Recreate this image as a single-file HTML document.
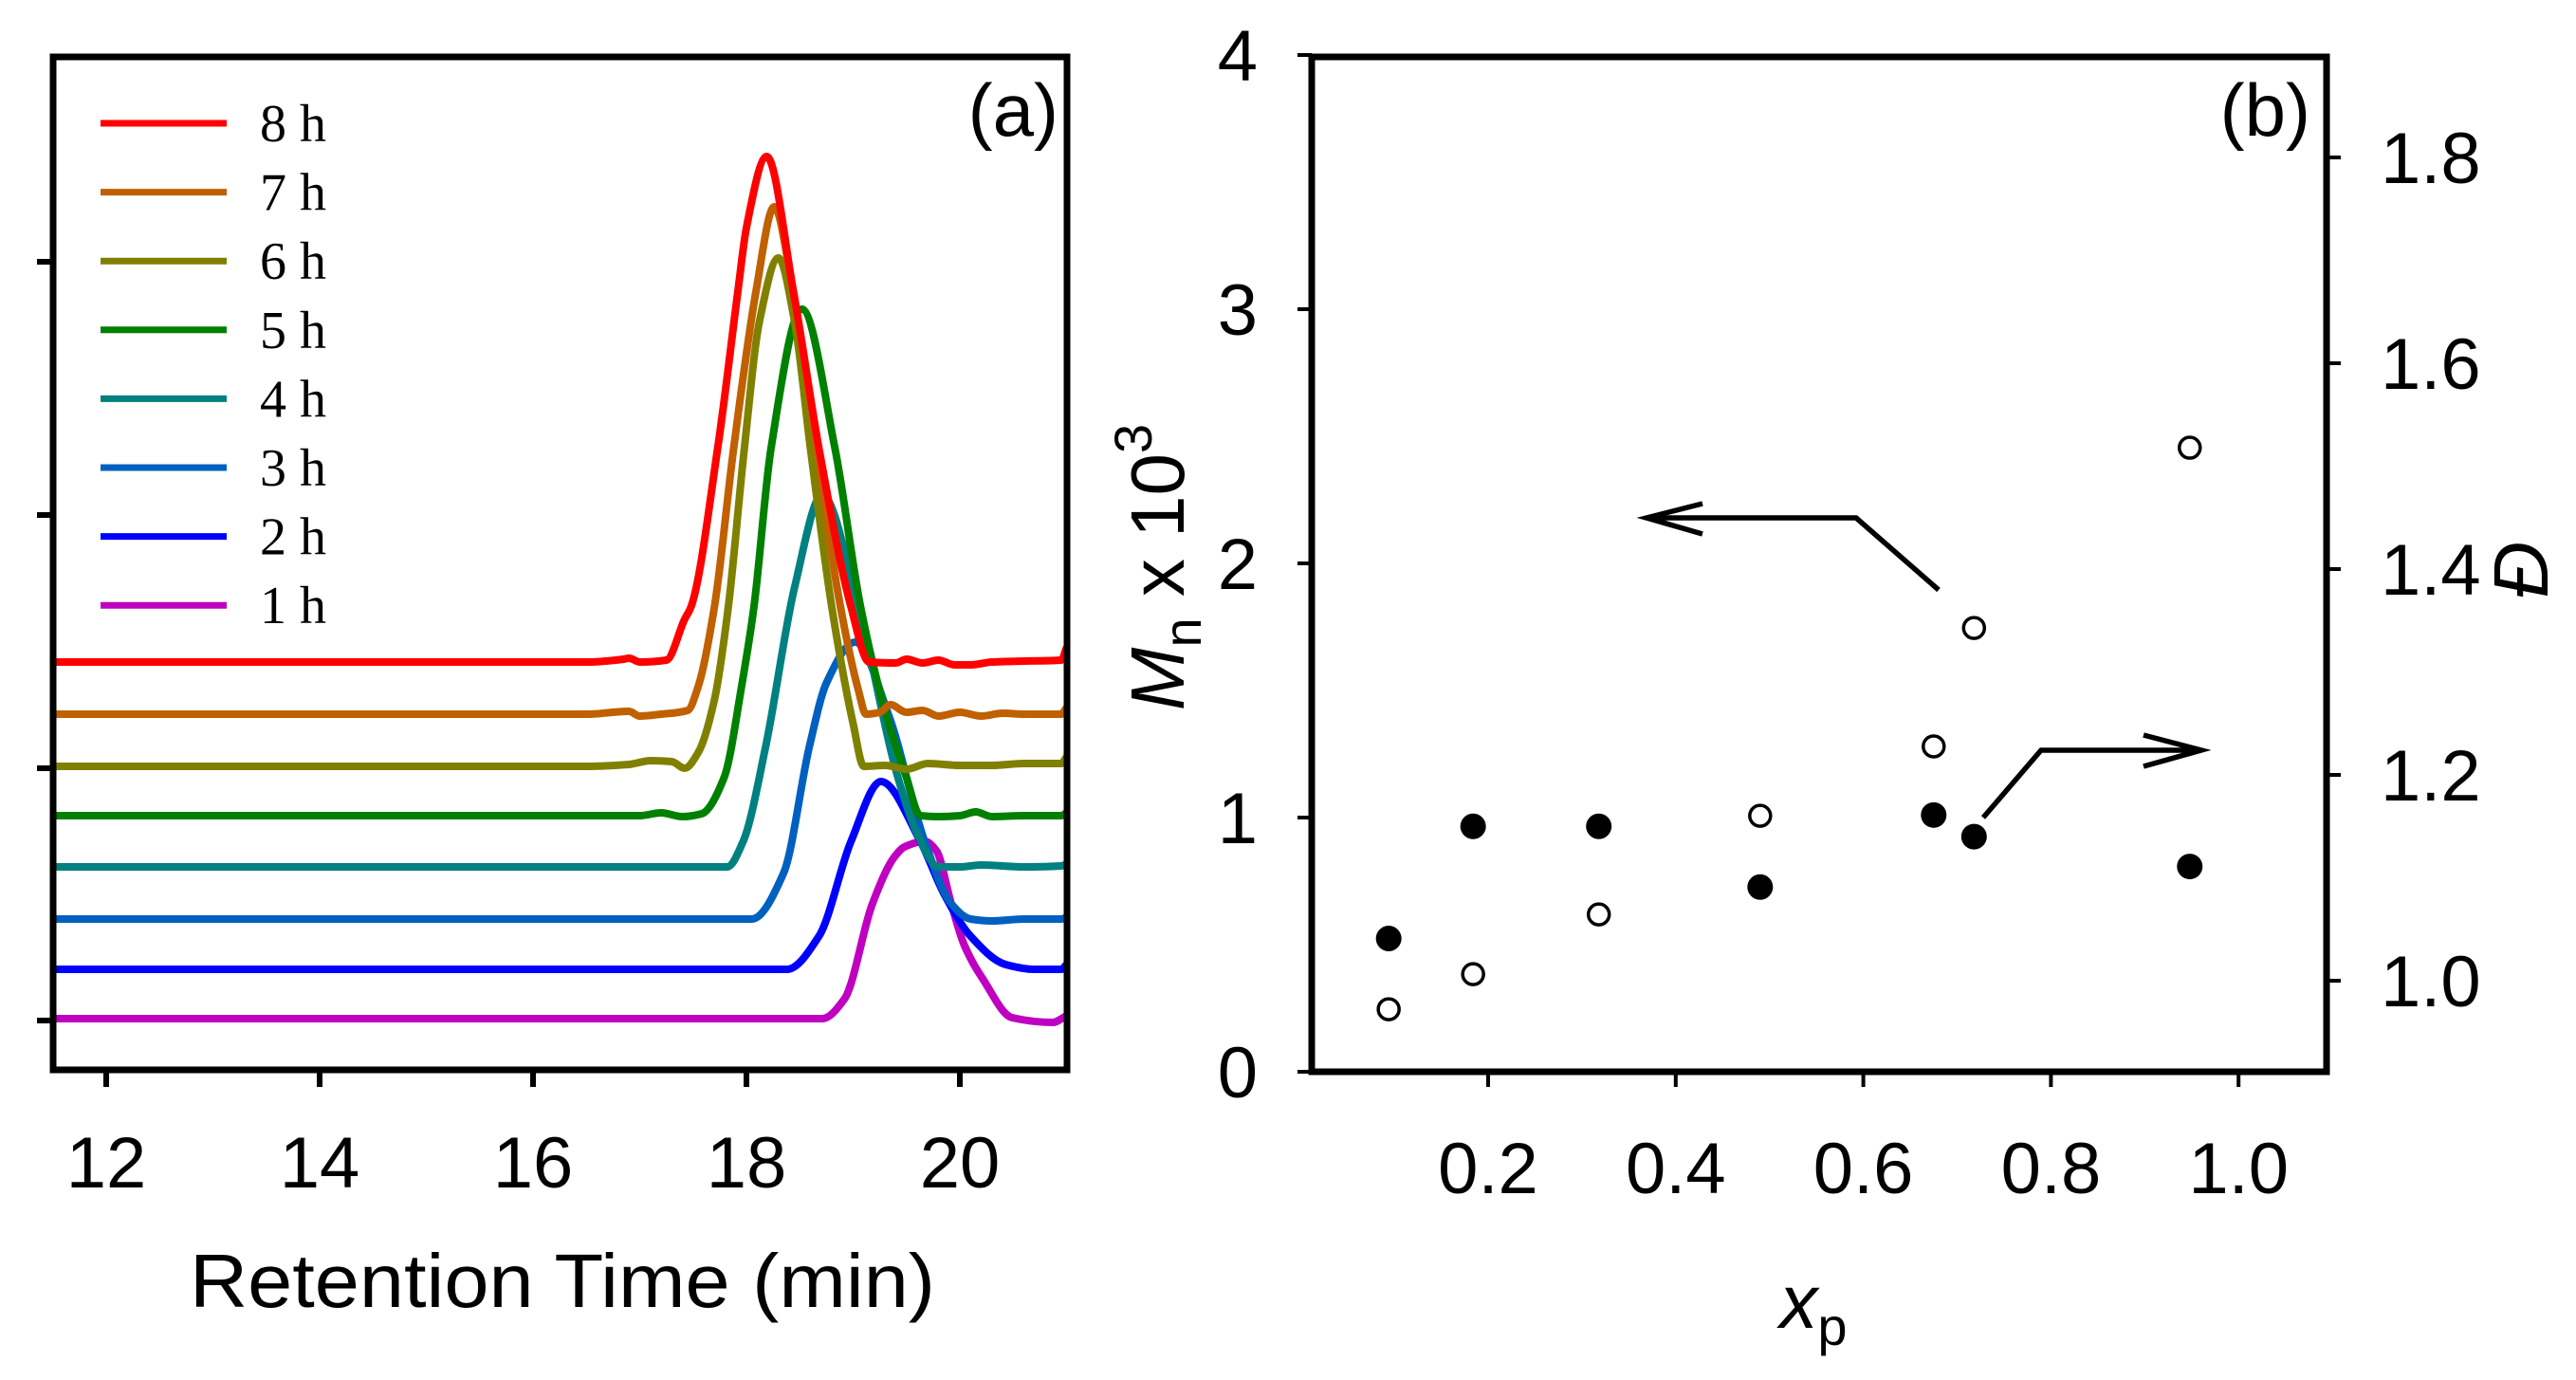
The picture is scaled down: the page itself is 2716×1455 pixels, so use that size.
<!DOCTYPE html>
<html><head><meta charset="utf-8">
<style>
html,body{margin:0;padding:0;background:#fff;}
svg{display:block;}
text{font-family:"Liberation Sans",sans-serif;fill:#000;}
</style></head>
<body>
<svg id="fig" width="2716" height="1455" viewBox="0 0 2716 1455" xmlns="http://www.w3.org/2000/svg">
  <g id="panelA"></g>
  <g id="panelB"></g>
</svg>
<script>
// ---------- Panel (a) data ----------
const seriesLabels = ["8 h","7 h","6 h","5 h","4 h","3 h","2 h","1 h"];
const seriesColors = ["#ff0000","#c06000","#808000","#008000","#008080","#0060c0","#0000ff","#c000c0"];
const baselines = [430, 375, 320, 268, 214, 159, 106, 54];
const t8 = [11.51,16.5,16.85,16.9,17.0,17.25,17.42,17.48,17.73,17.92,18.0,18.19,18.44,18.68,18.98,19.15,19.4,19.5,19.65,19.8,19.95,20.1,20.3,20.6,20.95,21.0];
const h8 = [0,0,3,4,0,2,45,58,225,391,458,533,391,225,58,0,-1,3,-1,2,-3,-3,0,1,2,15];
const t7 = [11.51,16.5,16.9,17.0,17.2,17.45,17.55,17.70,17.88,18.09,18.26,18.43,18.65,18.85,19.05,19.12,19.25,19.35,19.5,19.65,19.8,20.0,20.2,20.4,20.6,20.95,21.0];
const h7 = [0,0,3,-2,0,4,30,113,280,446,535,450,290,133,25,0,2,10,2,4,-2,2,-2,1,0,0,7];
const t6 = [11.51,16.5,16.9,17.1,17.3,17.42,17.55,17.7,17.83,17.98,18.12,18.30,18.45,18.60,18.80,19.0,19.1,19.3,19.5,19.7,20.0,20.3,20.6,20.95,21.0];
const h6 = [0,0,2,6,5,-2,15,70,168,335,468,536,470,335,168,45,0,1,-3,3,1,1,3,3,10];
const t5 = [11.51,16.5,17.0,17.2,17.4,17.58,17.79,17.96,18.07,18.23,18.52,18.83,19.07,19.3,19.5,19.63,19.8,20.0,20.15,20.3,20.6,20.95,21.0];
const h5 = [0,0,0,3,-1,2,40,140,220,387,534,387,220,110,40,0,-1,0,4,-1,0,0,3];
const t4 = [11.51,16.5,17.82,17.97,18.18,18.45,18.71,19.05,19.42,19.6,19.8,20.0,20.2,20.6,20.95,21.0];
const h4 = [0,0,0,27,127,294,392,274,94,35,0,0,2,0,1,3];
const t3 = [11.51,16.5,18.05,18.35,18.59,18.75,19.02,19.33,19.67,19.92,20.1,20.3,20.6,20.95,21.0];
const h3 = [0,0,0,49,182,249,292,216,82,16,0,-2,0,0,2];
const t2 = [11.51,16.5,18.38,18.68,18.98,19.26,19.63,19.85,20.1,20.43,20.7,20.95,21.0];
const h2 = [0,0,0,35,135,198,135,80,35,5,0,0,5];
const t1 = [11.51,16.5,18.71,18.92,19.18,19.39,19.48,19.67,19.78,19.92,20.04,20.22,20.49,20.87,21.0];
const h1 = [0,0,0,21,121,171,181,187,177,121,78,41,1,-4,3];
const seriesT = [t8,t7,t6,t5,t4,t3,t2,t1];
const seriesH = [h8,h7,h6,h5,h4,h3,h2,h1];
const xTicksA = [12,14,16,18,20];
const yTicksA = [52,318,585,852];

// ---------- Panel (b) data ----------
const xp = [0.094,0.184,0.318,0.49,0.675,0.718,0.948];
const mnVals = [0.246,0.384,0.619,1.007,1.28,1.746,2.455];
const dispVals = [1.041,1.150,1.150,1.091,1.161,1.140,1.111];
const xTicksB = [0.2,0.4,0.6,0.8,1.0];
const yTicksBL = [0,1,2,3,4];
const yTicksBR = [1.0,1.2,1.4,1.6,1.8];

const NS = "http://www.w3.org/2000/svg";
function mk(parent, tag, attrs){ const e=document.createElementNS(NS,tag); for(const k in attrs) e.setAttribute(k,attrs[k]); parent.appendChild(e); return e; }

const A = {l:56,r:1125,t:60,b:1128};
const xA = t => 112 + (t-12)*112.5;
const yA = v => 1128 - v;
const B = {l:1383,r:2453,t:60,b:1130};
const xB = x => 1569 + (x-0.2)*989;
const yBL = m => 1130 - m*268;
const yBR = d => 1034 - (d-1.0)*1085;

// monotone cubic (Fritsch-Carlson) path
function monoPath(pts){
  const n=pts.length, dx=[], s=[], m=new Array(n);
  for(let i=0;i<n-1;i++){ dx[i]=pts[i+1][0]-pts[i][0]; s[i]=(pts[i+1][1]-pts[i][1])/dx[i]; }
  m[0]=s[0]; m[n-1]=s[n-2];
  for(let i=1;i<n-1;i++){
    if(s[i-1]*s[i]<=0) m[i]=0;
    else { const w1=2*dx[i]+dx[i-1], w2=dx[i]+2*dx[i-1]; m[i]=(w1+w2)/(w1/s[i-1]+w2/s[i]); }
  }
  let d="M"+pts[0][0].toFixed(1)+","+pts[0][1].toFixed(1);
  for(let i=0;i<n-1;i++){
    const h=dx[i]/3;
    d+=" C"+(pts[i][0]+h).toFixed(1)+","+(pts[i][1]+m[i]*h).toFixed(1)+" "+(pts[i+1][0]-h).toFixed(1)+","+(pts[i+1][1]-m[i+1]*h).toFixed(1)+" "+pts[i+1][0].toFixed(1)+","+pts[i+1][1].toFixed(1);
  }
  return d;
}

// ---------- draw panel (a) ----------
const gA = document.getElementById("panelA");
const defs = mk(document.getElementById("fig"),"defs",{});
const cp = mk(defs,"clipPath",{id:"clipA"});
mk(cp,"rect",{x:A.l,y:A.t-10,width:A.r-A.l,height:A.b-A.t+10});
const traces = mk(gA,"g",{"clip-path":"url(#clipA)"});


for(let s=seriesT.length-1;s>=0;s--){
  const pts = seriesT[s].map((t,i)=>[xA(t), yA(baselines[s]+seriesH[s][i])]);
  const p = mk(traces,"path",{d:monoPath(pts),fill:"none",stroke:seriesColors[s],"stroke-width":8,"stroke-linejoin":"round","stroke-linecap":"round"});
  
  
}
const boxA = mk(gA,"rect",{x:A.l,y:A.t,width:A.r-A.l,height:A.b-A.t,fill:"none",stroke:"#000","stroke-width":7});


xTicksA.forEach(v=>{
  const tk = mk(gA,"line",{x1:xA(v),x2:xA(v),y1:A.b,y2:A.b+18,stroke:"#000","stroke-width":6});
  
  
  const tx = mk(gA,"text",{x:xA(v),y:1252,"text-anchor":"middle","font-size":76});
  tx.textContent = v;
  
  
});
yTicksA.forEach(v=>{
  const tk = mk(gA,"line",{x1:A.l-17,x2:A.l,y1:yA(v),y2:yA(v),stroke:"#000","stroke-width":6});
  
  
});
const xtA = mk(gA,"text",{x:593,y:1378,"text-anchor":"middle","font-size":80,textLength:786,lengthAdjust:"spacingAndGlyphs"});
xtA.textContent = "Retention Time (min)";


const labA = mk(gA,"text",{x:1116,y:143,"text-anchor":"end","font-size":78});
labA.textContent = "(a)";


const legend = mk(gA,"g",{});


seriesLabels.forEach((lab,i)=>{
  const y = 130 + i*72.6;
  const ln = mk(legend,"line",{x1:106,x2:239,y1:y,y2:y,stroke:seriesColors[i],"stroke-width":7});
  
  
  const tx = mk(legend,"text",{x:274,y:y+19,"font-size":56,style:'font-family:"Liberation Serif",serif'});
  tx.textContent = lab;
  
  
});

// ---------- draw panel (b) ----------
const gB = document.getElementById("panelB");
const boxB = mk(gB,"rect",{x:B.l,y:B.t,width:B.r-B.l,height:B.b-B.t,fill:"none",stroke:"#000","stroke-width":7});


xTicksB.forEach(v=>{
  const tk = mk(gB,"line",{x1:xB(v),x2:xB(v),y1:B.b,y2:B.b+16,stroke:"#000","stroke-width":4});
  
  
  const tx = mk(gB,"text",{x:xB(v),y:1258,"text-anchor":"middle","font-size":76});
  tx.textContent = v.toFixed(1);
  
  
});
yTicksBL.forEach(v=>{
  const tk = mk(gB,"line",{x1:B.l-15,x2:B.l,y1:yBL(v),y2:yBL(v),stroke:"#000","stroke-width":4});
  
  
  const tx = mk(gB,"text",{x:1326,y:yBL(v)+27,"text-anchor":"end","font-size":76});
  tx.textContent = v;
  
  
});
yTicksBR.forEach(v=>{
  const tk = mk(gB,"line",{x1:B.r,x2:B.r+15,y1:yBR(v),y2:yBR(v),stroke:"#000","stroke-width":4});
  
  
  const tx = mk(gB,"text",{x:2510,y:yBR(v)+27,"font-size":76});
  tx.textContent = v.toFixed(1);
  
  
});
xp.forEach((x,i)=>{
  const c = mk(gB,"circle",{cx:xB(x),cy:yBL(mnVals[i]),r:11,fill:"#fff",stroke:"#000","stroke-width":3.5});
  
  
  const f = mk(gB,"circle",{cx:xB(x),cy:yBR(dispVals[i]),r:13.5,fill:"#000"});
  
  
});
const arL = mk(gB,"path",{d:"M2044,622 L1957,546 L1736,546 M1795,531 L1736,546 L1795,563",fill:"none",stroke:"#000","stroke-width":5.5});


const arR = mk(gB,"path",{d:"M2091,862 L2152,791 L2321,791 M2260,775 L2321,791 L2260,808",fill:"none",stroke:"#000","stroke-width":5.5});


const labB = mk(gB,"text",{x:2436,y:143,"text-anchor":"end","font-size":78});
labB.textContent = "(b)";


const ytL = mk(gB,"text",{transform:"translate(1248,598) rotate(-90)","text-anchor":"middle","font-size":80});
ytL.innerHTML = '<tspan font-style="italic">M</tspan><tspan font-size="56" dy="18">n</tspan><tspan dy="-18"> x 10</tspan><tspan font-size="56" dy="-34">3</tspan>';


const ytR = mk(gB,"text",{transform:"translate(2686,601) rotate(-90)","text-anchor":"middle","font-size":82,"font-style":"italic"});
ytR.textContent = "Đ";


const xtB = mk(gB,"text",{x:1912,y:1400,"text-anchor":"middle","font-size":80});
xtB.innerHTML = '<tspan font-style="italic">x</tspan><tspan font-size="56" dy="18">p</tspan>';


</script>
</body></html>
